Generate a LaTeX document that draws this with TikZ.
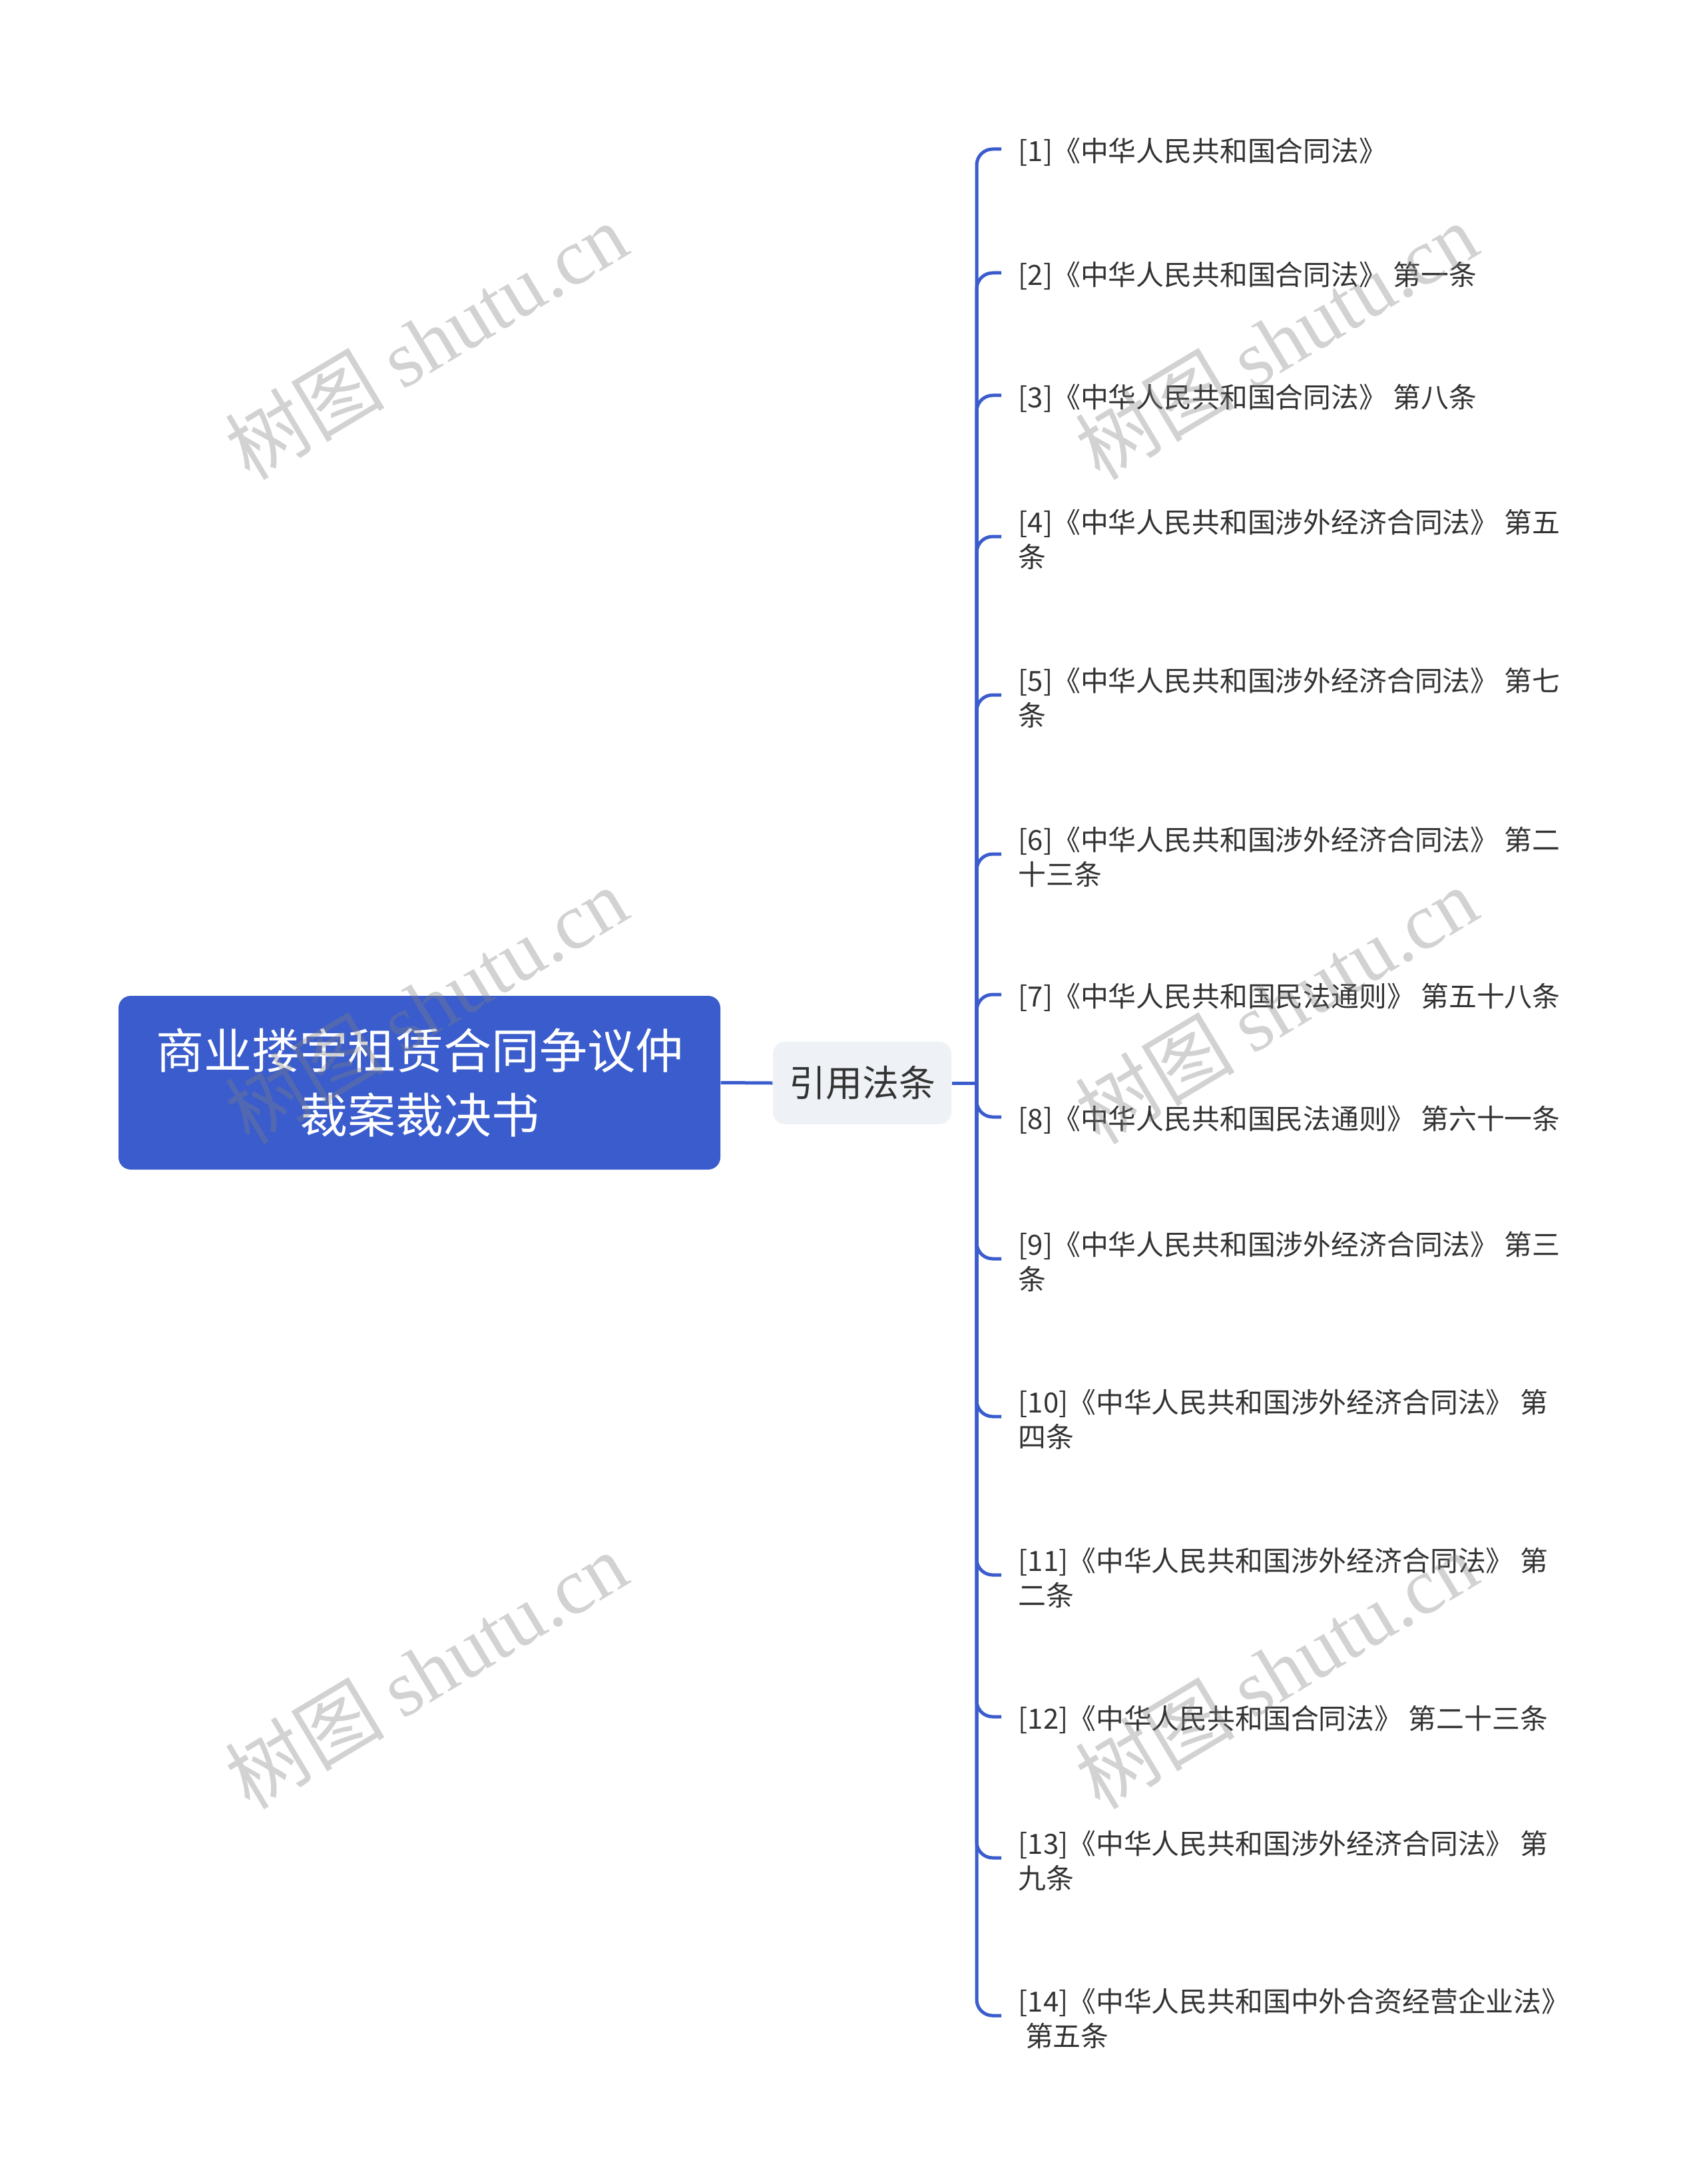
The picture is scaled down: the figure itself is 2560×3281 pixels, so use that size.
\documentclass[tikz,border=0pt]{standalone}
\usepackage{fontspec}
\setmainfont{Noto Sans CJK SC}
\newfontfamily\wmlatin{Liberation Serif}
\definecolor{rootblue}{HTML}{3A5CCC}
\definecolor{linkblue}{HTML}{3A5CCC}
\definecolor{midfill}{HTML}{EEF1F5}
\definecolor{txtgray}{HTML}{333333}
\definecolor{wmgray}{HTML}{7F7F7F}
\begin{document}
\begin{tikzpicture}[x=0.3pt,y=-0.3pt,
  rootbox/.style={fill=rootblue, text=white, rounded corners=5.5pt, align=center,
    minimum width=271.2pt, minimum height=78.3pt, inner sep=0pt,
    font=\fontsize{21.6}{29.1}\selectfont},
  midbox/.style={fill=midfill, text=txtgray, rounded corners=5.5pt, align=center,
    minimum width=80.4pt, minimum height=37.2pt, inner sep=0pt,
    font=\fontsize{16.5}{20}\selectfont},
  leaf/.style={anchor=west, inner xsep=7.5pt, inner ysep=0pt, align=left,
    text=txtgray, font=\fontsize{12.55}{15.6}\selectfont, yshift=-1.2pt},
  link/.style={draw=linkblue, line width=1.5pt},
  branch/.style={link, rounded corners=7.2pt},
  wm/.style={rotate=30.9, text=wmgray, text opacity=0.35, inner sep=0pt,
    font=\fontsize{36}{36}\selectfont}]
\useasboundingbox (0,0) rectangle (2560,3281);
\fill[white] (0,0) rectangle (2560,3281);

\node[rootbox] (root) at (630,1626.5) {商业搂宇租赁合同争议仲\\裁案裁决书};
\node[midbox] (mid) at (1295,1627) {引用法条};
\coordinate (sp) at (1467,1627);

\node[leaf] (l1) at (1504,224) {[1]《中华人民共和国合同法》};
\node[leaf] (l2) at (1504,410) {[2]《中华人民共和国合同法》 第一条};
\node[leaf] (l3) at (1504,594) {[3]《中华人民共和国合同法》 第八条};
\node[leaf] (l4) at (1504,806) {[4]《中华人民共和国涉外经济合同法》 第五\\条};
\node[leaf] (l5) at (1504,1044) {[5]《中华人民共和国涉外经济合同法》 第七\\条};
\node[leaf] (l6) at (1504,1283) {[6]《中华人民共和国涉外经济合同法》 第二\\十三条};
\node[leaf] (l7) at (1504,1494) {[7]《中华人民共和国民法通则》 第五十八条};
\node[leaf] (l8) at (1504,1678) {[8]《中华人民共和国民法通则》 第六十一条};
\node[leaf] (l9) at (1504,1891) {[9]《中华人民共和国涉外经济合同法》 第三\\条};
\node[leaf] (l10) at (1504,2128) {[10]《中华人民共和国涉外经济合同法》 第\\四条};
\node[leaf] (l11) at (1504,2366) {[11]《中华人民共和国涉外经济合同法》 第\\二条};
\node[leaf] (l12) at (1504,2579) {[12]《中华人民共和国合同法》 第二十三条};
\node[leaf] (l13) at (1504,2791) {[13]《中华人民共和国涉外经济合同法》 第\\九条};
\node[leaf] (l14) at (1504,3028) {[14]《中华人民共和国中外合资经营企业法》\\\hspace*{0.25em}第五条};

\draw[link] (root.east) -- (mid.west);
\draw[link] (mid.east) -- (sp);
\foreach \i in {1,...,14} {
  \coordinate (b\i) at ([yshift=1.2pt]l\i.west);
  \draw[branch] (sp) -- (sp |- b\i) -- (b\i);
}

\foreach \wx in {640,1917} {
  \foreach \wy in {512,1510,2509} {
    \node[wm] at (\wx,\wy) {树图 {\wmlatin shutu.cn}};
  }
}
\end{tikzpicture}
\end{document}
